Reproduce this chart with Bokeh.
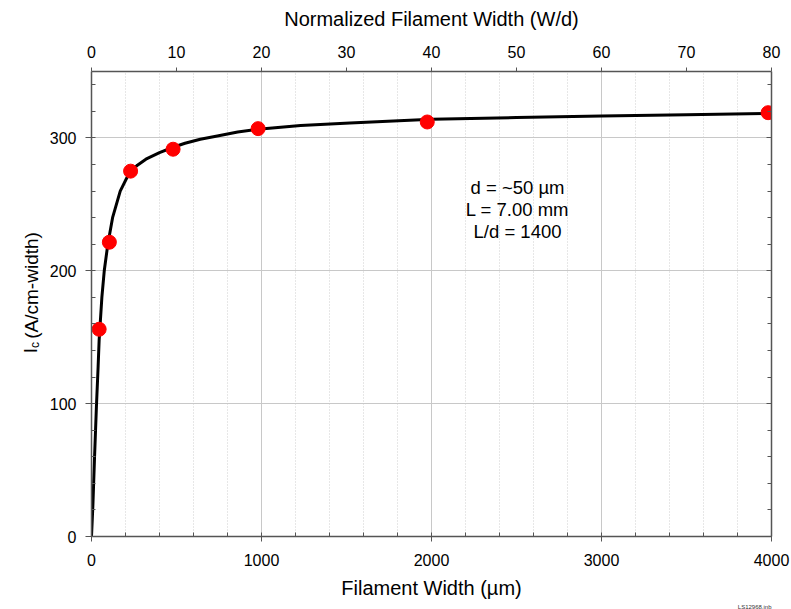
import math
from bokeh.plotting import figure
from bokeh.layouts import row
from bokeh.models import Range1d, LinearAxis, SingleIntervalTicker, Label, Grid, Title
from bokeh.core.properties import value
from bokeh.embed import file_html
from bokeh.resources import INLINE

# measured data
width_um = [45, 105, 230, 480, 980, 1975, 3980]
ic_data = [156, 221.5, 275, 291.5, 307, 312, 319]

# fitted curve
fit_w = [0, 8, 18, 29, 39, 45, 61, 75, 96, 124, 169, 208, 231, 270, 320, 400, 480, 550,
         640, 740, 860, 980, 1230, 1520, 2000, 2500, 3000, 3500, 4000]
fit_ic = [0, 23, 60, 98, 128, 148, 180, 200, 220, 240, 260, 270, 274.5, 279.5, 284, 289, 293, 296,
          299, 301.5, 304.5, 306.5, 309.3, 311.3, 314, 315.3, 316.5, 317.5, 318.5]

note_lines = ["d = ~50 µm", "L = 7.00 mm", "L/d = 1400"]
FONT = "Liberation Sans"
AX = "#555555"
LAB_W = 46

# ---- narrow figure holding the rotated y-axis title with subscript ----
lab = figure(width=LAB_W, height=609, x_range=Range1d(0, LAB_W), y_range=Range1d(0, 609),
             output_backend="svg", toolbar_location=None,
             x_axis_location=None, y_axis_location=None,
             min_border_left=0, min_border_right=0, min_border_top=0, min_border_bottom=0)
lab.outline_line_color = None
lab.center = []
lab.text(x=[30], y=[609 - 369], text=["I"], angle=math.pi / 2, text_align="left",
         text_baseline="alphabetic", text_font=value(FONT), text_font_size=value("19px"), text_color="black")
lab.text(x=[34], y=[609 - 362], text=["c"], angle=math.pi / 2, text_align="left",
         text_baseline="alphabetic", text_font=value(FONT), text_font_size=value("12px"), text_color="black")
lab.text(x=[31], y=[609 - 350], text=["(A/cm-width)"], angle=math.pi / 2, text_align="left",
         text_baseline="alphabetic", text_font=value(FONT), text_font_size=value("19px"), text_color="black")

# ---- main plot ----
p = figure(width=791 - LAB_W, height=609, x_range=Range1d(0, 4000), y_range=Range1d(0, 350),
           output_backend="svg", toolbar_location=None,
           x_axis_location=None, y_axis_location=None,
           min_border_left=91 - LAB_W, min_border_right=20, min_border_top=71, min_border_bottom=72)
p.outline_line_color = None
p.center = []
p.extra_x_ranges = {"wd": Range1d(0, 80)}

xt = SingleIntervalTicker(interval=1000, num_minor_ticks=5)
yt = SingleIntervalTicker(interval=100, num_minor_ticks=5)

def style(ax, size="16px"):
    ax.axis_line_color = AX
    ax.axis_line_width = 1.5
    ax.major_tick_line_color = AX
    ax.minor_tick_line_color = AX
    ax.major_label_text_font = FONT
    ax.major_label_text_font_size = size
    ax.major_label_text_color = "black"
    ax.axis_label_text_font = FONT
    ax.axis_label_text_font_size = "20px"
    ax.axis_label_text_font_style = "normal"
    ax.axis_label_text_color = "black"

xb = LinearAxis(ticker=xt, axis_label="Filament Width (µm)")
style(xb)
xb.major_tick_in = 0; xb.major_tick_out = 5
xb.minor_tick_in = 4; xb.minor_tick_out = 0
xb.major_label_standoff = 12
xb.axis_label_standoff = 8
p.add_layout(xb, "below")

xtop = LinearAxis(x_range_name="wd", ticker=SingleIntervalTicker(interval=10, num_minor_ticks=0),
                  axis_label="Normalized Filament Width (W/d)")
style(xtop)
xtop.major_tick_in = 0; xtop.major_tick_out = 4
xtop.minor_tick_line_color = None
xtop.major_label_standoff = 10
xtop.axis_label_standoff = 13
p.add_layout(xtop, "above")

yl = LinearAxis(ticker=yt)
style(yl)
yl.major_tick_in = 0; yl.major_tick_out = 6
yl.minor_tick_in = 4; yl.minor_tick_out = 0
yl.major_label_standoff = 9
p.add_layout(yl, "left")

yr = LinearAxis(ticker=yt, major_label_overrides={0: "", 100: "", 200: "", 300: ""})
style(yr)
yr.major_tick_in = 5; yr.major_tick_out = 0
yr.minor_tick_in = 4; yr.minor_tick_out = 0
yr.major_label_standoff = 0
p.add_layout(yr, "right")

gx = Grid(dimension=0, ticker=xt, grid_line_color="#c8c8c8", grid_line_width=1,
          minor_grid_line_color="#cfcfcf", minor_grid_line_dash="1 2", minor_grid_line_width=1)
gy = Grid(dimension=1, ticker=yt, grid_line_color="#c8c8c8", grid_line_width=1)
p.add_layout(gx)
p.add_layout(gy)

p.line(fit_w, fit_ic, line_width=3, line_color="black", line_join="round")
p.scatter(width_um, ic_data, size=14, fill_color="red", line_color="red")

for i, t in enumerate(note_lines):
    p.add_layout(Label(x=2506, y=262.5 - 16.5 * i, text=t, text_align="center", text_baseline="middle",
                       text_font=FONT, text_font_size="18.5px", text_color="black"))

p.add_layout(Title(text="LS12968.jnb", align="right", text_font=FONT, text_font_size="6px",
                   text_font_style="normal", text_color="#333333", standoff=0), "below")

layout = row(lab, p)
open("out.html", "w").write(file_html(layout, INLINE))
